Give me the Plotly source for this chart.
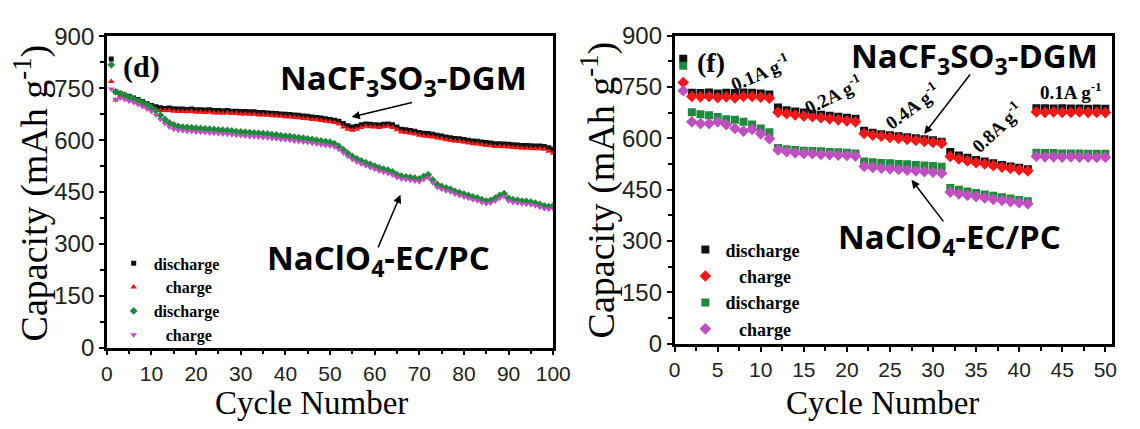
import plotly.graph_objects as go

W, H = 1140, 429

# ---------------- data: panel (d) long cycling ----------------
cycles_d = list(range(1, 101))
dgm_dis_d = [835, 740, 735, 730, 727, 722, 718, 712, 706, 700,
             697, 694, 692, 693, 691, 690, 690, 689, 690, 688,
             688, 687, 688, 686, 686, 685, 686, 684, 684, 683,
             683, 682, 682, 680, 680, 679, 678, 677, 676, 675,
             674, 673, 672, 670, 669, 667, 666, 664, 662, 660,
             658, 655, 648, 642, 638, 640, 645, 647, 646, 645,
             644, 646, 647, 645, 638, 632, 630, 628, 626, 622,
             620, 619, 617, 614, 612, 609, 607, 605, 604, 602,
             600, 598, 597, 595, 593, 592, 590, 590, 589, 588,
             587, 586, 585, 585, 584, 583, 583, 582, 578, 574]
dgm_chg_d = [770, 716, 728, 724, 720, 715, 711, 705, 698, 692,
             689, 686, 685, 686, 684, 683, 683, 682, 683, 681,
             681, 680, 681, 679, 679, 678, 679, 677, 677, 676,
             676, 675, 675, 673, 673, 672, 671, 670, 669, 668,
             667, 666, 665, 663, 662, 660, 659, 657, 655, 653,
             651, 647, 638, 632, 629, 632, 637, 640, 639, 638,
             637, 639, 640, 637, 630, 624, 622, 620, 618, 614,
             612, 611, 609, 606, 604, 601, 599, 597, 596, 594,
             592, 590, 589, 587, 585, 584, 582, 582, 581, 580,
             579, 578, 577, 577, 576, 575, 575, 574, 568, 562]
ecpc_dis_d = [818, 740, 735, 730, 724, 720, 714, 708, 703, 695,
              685, 672, 660, 650, 644, 640, 638, 637, 636, 635,
              634, 633, 632, 631, 630, 629, 628, 627, 625, 624,
              623, 622, 621, 620, 619, 618, 616, 615, 613, 612,
              611, 609, 607, 606, 604, 602, 600, 598, 596, 594,
              590, 582, 572, 562, 553, 546, 540, 535, 530, 525,
              520, 516, 513, 508, 500, 496, 494, 492, 490, 488,
              495, 500, 485, 472, 466, 462, 458, 452, 448, 444,
              440, 436, 433, 428, 424, 426, 432, 440, 445, 432,
              428, 426, 424, 423, 421, 418, 414, 410, 408, 410]
ecpc_chg_d = [748, 718, 722, 718, 713, 709, 703, 697, 690, 683,
              673, 660, 648, 638, 632, 629, 627, 626, 625, 624,
              623, 622, 621, 620, 619, 618, 617, 616, 614, 613,
              612, 611, 610, 609, 608, 607, 605, 604, 602, 601,
              600, 598, 596, 595, 593, 591, 589, 587, 585, 583,
              580, 573, 563, 553, 544, 537, 531, 526, 521, 516,
              511, 507, 504, 499, 492, 488, 486, 484, 482, 480,
              486, 491, 477, 464, 458, 454, 450, 444, 440, 436,
              432, 428, 425, 420, 416, 418, 424, 432, 437, 424,
              420, 418, 416, 415, 413, 410, 406, 402, 400, 402]

# ---------------- data: panel (f) rate capability ----------------
cycles_f = list(range(1, 51))
dgm_dis_f = [832,
             733, 732, 734, 731, 733, 732, 734, 733, 731, 728,
             690, 682, 678, 675, 672, 669, 666, 663, 660, 657,
             622, 616, 612, 609, 606, 603, 600, 597, 594, 590,
             560, 550, 543, 537, 532, 527, 522, 518, 514, 510,
             688, 688, 687, 688, 687, 687, 686, 687, 686]
dgm_chg_f = [763,
             722, 721, 722, 719, 721, 718, 722, 722, 720, 717,
             676, 672, 668, 665, 663, 660, 657, 654, 651, 648,
             614, 609, 606, 603, 600, 597, 594, 591, 588, 585,
             547, 540, 534, 529, 525, 520, 516, 512, 508, 505,
             677, 676, 677, 676, 676, 677, 676, 676, 675]
ecpc_dis_f = [812,
              676, 670, 667, 662, 656, 654, 648, 640, 629, 618,
              572, 568, 566, 564, 563, 562, 560, 559, 558, 556,
              532, 530, 528, 527, 525, 524, 522, 521, 519, 517,
              455, 450, 445, 440, 436, 432, 428, 424, 420, 416,
              558, 557, 557, 556, 556, 556, 555, 555, 555]
ecpc_chg_f = [739,
              648, 643, 643, 648, 640, 629, 621, 626, 613, 599,
              566, 561, 558, 556, 555, 553, 552, 551, 550, 548,
              518, 515, 513, 511, 509, 507, 505, 503, 501, 498,
              443, 438, 434, 430, 426, 422, 419, 415, 412, 409,
              547, 546, 546, 545, 546, 545, 545, 544, 545]

legend_names = ["discharge", "\u00a0\u00a0\u00a0charge", "discharge", "\u00a0\u00a0\u00a0charge"]
rate_labels = ["0.1A g<sup>-1</sup>", "0.2A g<sup>-1</sup>", "0.4A g<sup>-1</sup>",
               "0.8A g<sup>-1</sup>", "0.1A g<sup>-1</sup>"]

BLACK = "#111111"
RED = "#f01818"
GREEN = "#1d8a3c"
MAG = "#c04fc0"

SERIF = "Liberation Serif"
SANS = "Liberation Sans"
LABEL = "Open Sans"


def px(x):
    return x / W


def py(y):
    return 1 - y / H


fig = go.Figure()

left_specs = [
    (dgm_dis_d, BLACK, "square", 5),
    (dgm_chg_d, RED, "triangle-up", 6),
    (ecpc_dis_d, GREEN, "diamond", 6),
    (ecpc_chg_d, MAG, "triangle-down", 6),
]
for (vals, col, sym, size), name in zip(left_specs, legend_names):
    fig.add_trace(go.Scatter(
        x=cycles_d, y=vals, mode="markers", name=name,
        marker=dict(color=col, symbol=sym, size=size, line=dict(width=0)),
        xaxis="x", yaxis="y", legend="legend"))

right_specs = [
    (dgm_dis_f, BLACK, "square", 8),
    (dgm_chg_f, RED, "diamond", 9),
    (ecpc_dis_f, GREEN, "square", 8),
    (ecpc_chg_f, MAG, "diamond", 9),
]
for (vals, col, sym, size), name in zip(right_specs, legend_names):
    fig.add_trace(go.Scatter(
        x=cycles_f, y=vals, mode="markers", name=name,
        marker=dict(color=col, symbol=sym, size=size, line=dict(width=0)),
        xaxis="x2", yaxis="y2", legend="legend2"))

axis_common = dict(
    showline=True, linecolor="black", linewidth=2.5, mirror=True,
    ticks="outside", ticklen=5, tickwidth=2, tickcolor="black",
    showgrid=False, zeroline=False,
)
xfont = dict(family=SANS, size=21, color="#222")
yfont = dict(family=SANS, size=24, color="#222")
minor_y = dict(dtick=75, ticklen=4, tickwidth=2, tickcolor="black", ticks="outside")

fig.update_layout(
    width=W, height=H,
    margin=dict(l=0, r=0, t=0, b=0),
    paper_bgcolor="white", plot_bgcolor="white",
    xaxis=dict(domain=[px(103), px(559)], range=[0, 100], dtick=10, tickfont=xfont,
               minor=dict(dtick=5, ticklen=4, tickwidth=2, tickcolor="black", ticks="outside"),
               anchor="y", **axis_common),
    yaxis=dict(domain=[py(356), py(24)], range=[0, 900], dtick=150, tickfont=yfont,
               minor=minor_y, anchor="x", **axis_common),
    xaxis2=dict(domain=[px(683), px(1130)], range=[0, 50.8], dtick=5, tickfont=xfont,
                minor=dict(dtick=2.5, ticklen=4, tickwidth=2, tickcolor="black", ticks="outside"),
                anchor="y2", **axis_common),
    yaxis2=dict(domain=[py(352), py(23)], range=[0, 900], dtick=150, tickfont=yfont,
                minor=minor_y, anchor="x2", **axis_common),
    legend=dict(x=px(110), y=py(248), xanchor="left", yanchor="top",
                bgcolor="rgba(0,0,0,0)", borderwidth=0,
                font=dict(family=SERIF, size=16, color="black", weight="bold"),
                itemwidth=30, tracegroupgap=0),
    legend2=dict(x=px(694), y=py(232), xanchor="left", yanchor="top",
                 bgcolor="rgba(0,0,0,0)", borderwidth=0,
                 font=dict(family=SERIF, size=18, color="black", weight="bold"),
                 itemwidth=30, tracegroupgap=0),
)

ann = []


def text(x, y, t, fam, size, bold=True, angle=0, xanchor="center"):
    ann.append(dict(x=px(x), y=py(y), xref="paper", yref="paper", text=t,
                    showarrow=False, xanchor=xanchor, yanchor="middle", textangle=angle,
                    font=dict(family=fam, size=size, color="black",
                              weight="bold" if bold else "normal")))


def arrow(hx, hy, tx, ty):
    ann.append(dict(x=px(hx), y=py(hy), xref="paper", yref="paper", text="",
                    showarrow=True, arrowhead=2, arrowsize=1.1, arrowwidth=1.5,
                    arrowcolor="black", ax=tx - hx, ay=ty - hy))


# axis titles
text(27, 191, "Capacity (mAh g<sup>-1</sup>)", SERIF, 38, bold=False, angle=-90)
text(605, 188, "Capacity (mAh g<sup>-1</sup>)", SERIF, 38, bold=False, angle=-90)
text(312, 415, "Cycle Number", SERIF, 33, bold=False)
text(895, 415, "Cycle Number", SERIF, 33, bold=False)

# panel (d)
text(138, 57, "(d)", SERIF, 30)
text(278, 70, "NaCF<sub>3</sub>SO<sub>3</sub>-DGM", LABEL, 33, xanchor="left")
text(265, 262, "NaClO<sub>4</sub>-EC/PC", LABEL, 33, xanchor="left")
arrow(353, 110, 415, 95)
arrow(403, 193, 380, 247)

# panel (f)
text(720, 52, "(f)", SERIF, 28)
text(861, 46, "NaCF<sub>3</sub>SO<sub>3</sub>-DGM", LABEL, 33, xanchor="left")
text(848, 240, "NaClO<sub>4</sub>-EC/PC", LABEL, 33, xanchor="left")
arrow(938, 128, 985, 67)
arrow(925, 177, 958, 220)

rate_pos = [(770, 62, -23), (845, 85, -26), (925, 98, -36), (1012, 121, -43), (1088, 82, 0)]
for (x, y, a), t in zip(rate_pos, rate_labels):
    text(x, y, t, SERIF, 19, angle=a)

fig.update_layout(annotations=ann)

fig.write_html("out.html")
